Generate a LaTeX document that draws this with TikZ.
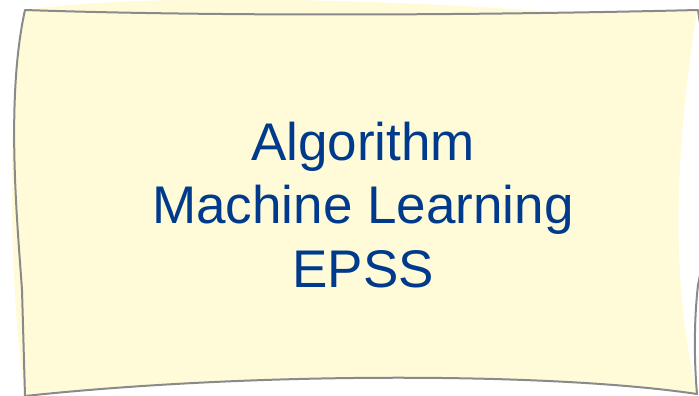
\documentclass[tikz,border=0pt]{standalone}
\usepackage{fontspec}
\setmainfont{Liberation Sans}
\definecolor{notefill}{RGB}{255,251,217}
\definecolor{noteline}{RGB}{138,138,138}
\definecolor{notetext}{RGB}{0,58,140}
\begin{document}
\begin{tikzpicture}[x=1pt,y=-1pt,
  notelabel/.style={anchor=base,text=notetext,inner sep=0pt,font=\fontsize{53}{63}\selectfont}]
\useasboundingbox (0,0) rectangle (699,396);
\clip (0,0) rectangle (699,396);
% paper fill
\fill[notefill] (25,10) .. controls (150,-8) and (400,0) .. (570,13) -- (697,11)
  .. controls (675,150) and (670,280) .. (697,394)
  .. controls (550,372) and (250,372) .. (25,396)
  .. controls (10,300) and (5,100) .. (25,10) -- cycle;
% outline
\draw[noteline,line width=2pt,line join=round] (25,10) .. controls (200,16) and (450,16) .. (698,10)
  .. controls (715,120) and (712,220) .. (698,285)
  .. controls (694,320) and (694,360) .. (697,394)
  .. controls (550,372) and (250,372) .. (25,396)
  -- (22,290) .. controls (18,230) and (5,100) .. (25,10) -- cycle;
\node[notelabel] (l1) at (363,160) {Algorithm};
\node[notelabel] (l2) at (363,223) {Machine Learning};
\node[notelabel] (l3) at (363,287) {EPSS};
\end{tikzpicture}
\end{document}
